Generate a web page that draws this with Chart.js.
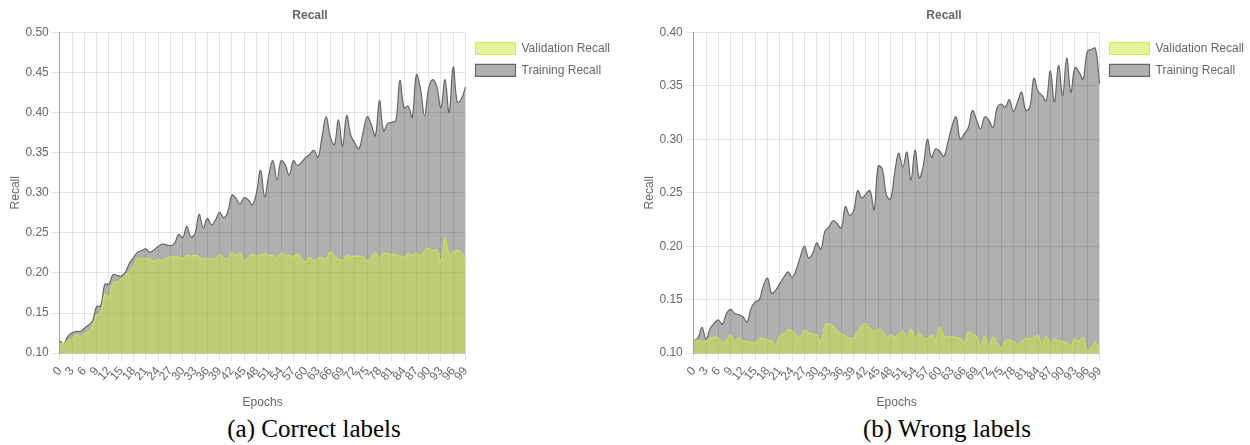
<!DOCTYPE html>
<html>
<head>
<meta charset="utf-8">
<script src="https://cdn.jsdelivr.net/npm/chart.js@4/dist/chart.umd.min.js"></script>
<style>
  html, body { margin: 0; padding: 0; background: #fff; }
  body { width: 1250px; height: 445px; position: relative; overflow: hidden; }
  .panel { position: absolute; top: 0; }
  .caption {
    position: absolute; top: 415px; width: 400px; text-align: center;
    font-family: "Liberation Serif", "DejaVu Serif", serif; font-size: 25px; color: #000;
    white-space: nowrap;
  }
</style>
</head>
<body>
<canvas id="chartA" class="panel" style="left:0px" width="620" height="412"></canvas>
<canvas id="chartB" class="panel" style="left:634px" width="620" height="412"></canvas>
<div class="caption" style="left:114px">(a) Correct labels</div>
<div class="caption" style="left:747px">(b) Wrong labels</div>
<script>
// Epoch labels 0..99
const epochs = Array.from({ length: 100 }, (_, i) => String(i));

// (a) Correct labels
const validationRecallA = [
  0.112, 0.112, 0.115, 0.118, 0.123, 0.121, 0.124, 0.127, 0.133, 0.148,
  0.149, 0.174, 0.170, 0.188, 0.189, 0.192, 0.197, 0.202, 0.208, 0.218,
  0.218, 0.218, 0.218, 0.214, 0.217, 0.216, 0.218, 0.220, 0.220, 0.220,
  0.218, 0.222, 0.221, 0.222, 0.220, 0.217, 0.218, 0.217, 0.218, 0.223,
  0.218, 0.218, 0.226, 0.222, 0.225, 0.215, 0.220, 0.223, 0.221, 0.222,
  0.224, 0.222, 0.222, 0.218, 0.225, 0.222, 0.222, 0.220, 0.224, 0.217,
  0.214, 0.220, 0.215, 0.218, 0.219, 0.217, 0.226, 0.222, 0.217, 0.216,
  0.222, 0.220, 0.221, 0.221, 0.220, 0.215, 0.220, 0.225, 0.218, 0.225,
  0.224, 0.223, 0.223, 0.221, 0.219, 0.224, 0.222, 0.225, 0.222, 0.228,
  0.231, 0.228, 0.229, 0.214, 0.244, 0.223, 0.226, 0.228, 0.225, 0.218
];
const trainingRecallA = [
  0.115, 0.112, 0.121, 0.1255, 0.127, 0.127, 0.131, 0.135, 0.140, 0.158,
  0.159, 0.186, 0.186, 0.198, 0.197, 0.196, 0.201, 0.212, 0.219, 0.226,
  0.228, 0.230, 0.226, 0.229, 0.233, 0.236, 0.235, 0.234, 0.237, 0.248,
  0.244, 0.258, 0.245, 0.249, 0.273, 0.256, 0.268, 0.260, 0.266, 0.276,
  0.269, 0.276, 0.297, 0.293, 0.286, 0.294, 0.291, 0.285, 0.300, 0.328,
  0.295, 0.322, 0.340, 0.316, 0.340, 0.335, 0.322, 0.340, 0.334, 0.338,
  0.344, 0.348, 0.353, 0.344, 0.370, 0.395, 0.370, 0.360, 0.391, 0.358,
  0.396, 0.372, 0.362, 0.355, 0.375, 0.395, 0.385, 0.371, 0.415, 0.377,
  0.386, 0.388, 0.390, 0.440, 0.406, 0.408, 0.394, 0.447, 0.430, 0.396,
  0.430, 0.441, 0.432, 0.406, 0.441, 0.400, 0.457, 0.413, 0.417, 0.432
];

// (b) Wrong labels
const validationRecallB = [
  0.1125, 0.112, 0.111, 0.111, 0.114, 0.115, 0.1145, 0.110, 0.112, 0.117,
  0.111, 0.1145, 0.111, 0.111, 0.110, 0.110, 0.113, 0.1135, 0.1125, 0.1115,
  0.107, 0.1165, 0.118, 0.122, 0.1205, 0.117, 0.1135, 0.1215, 0.119, 0.1175,
  0.117, 0.110, 0.126, 0.1273, 0.1255, 0.1205, 0.118, 0.1162, 0.114, 0.1145,
  0.120, 0.1255, 0.1275, 0.1235, 0.1205, 0.1225, 0.121, 0.1145, 0.117, 0.1155,
  0.1175, 0.121, 0.1125, 0.1225, 0.1145, 0.119, 0.1145, 0.1135, 0.117, 0.113,
  0.1244, 0.116, 0.115, 0.1153, 0.1145, 0.114, 0.110, 0.1197, 0.118, 0.1155,
  0.1056, 0.116, 0.1055, 0.115, 0.1097, 0.1047, 0.111, 0.1125, 0.111, 0.108,
  0.111, 0.1135, 0.1135, 0.1145, 0.1166, 0.108, 0.116, 0.1085, 0.1135, 0.1115,
  0.1108, 0.1097, 0.1066, 0.1135, 0.111, 0.115, 0.1015, 0.105, 0.110, 0.101
];
const trainingRecallB = [
  0.112, 0.114, 0.124, 0.113, 0.123, 0.128, 0.131, 0.127, 0.137, 0.141,
  0.137, 0.136, 0.134, 0.129, 0.142, 0.148, 0.150, 0.163, 0.170, 0.156,
  0.159, 0.165, 0.171, 0.176, 0.171, 0.178, 0.190, 0.200, 0.189, 0.193,
  0.203, 0.197, 0.214, 0.218, 0.224, 0.221, 0.217, 0.237, 0.229, 0.233,
  0.252, 0.245, 0.249, 0.252, 0.234, 0.275, 0.272, 0.248, 0.244, 0.268,
  0.287, 0.274, 0.288, 0.262, 0.290, 0.264, 0.275, 0.300, 0.283, 0.291,
  0.289, 0.284, 0.297, 0.312, 0.321, 0.300, 0.305, 0.311, 0.327, 0.318,
  0.310, 0.321, 0.318, 0.311, 0.329, 0.333, 0.330, 0.337, 0.326, 0.335,
  0.344, 0.327, 0.330, 0.357, 0.345, 0.341, 0.336, 0.364, 0.335, 0.369,
  0.341, 0.376, 0.344, 0.367, 0.363, 0.356, 0.382, 0.384, 0.385, 0.352
];

const yRangeA = { min: 0.10, max: 0.50 };
const yRangeB = { min: 0.10, max: 0.40 };

Chart.defaults.font.family = "'Liberation Sans', Arial, Helvetica, sans-serif";
Chart.defaults.font.size = 12;
Chart.defaults.color = '#666';

function recallChart(canvasId, validation, training, yRange) {
  return new Chart(document.getElementById(canvasId), {
    type: 'line',
    data: {
      labels: epochs,
      datasets: [
        {
          label: 'Validation Recall',
          data: validation,
          backgroundColor: 'rgba(206, 232, 60, 0.5)',
          borderColor: 'rgba(210, 234, 70, 1)',
          borderWidth: 1,
          fill: 'origin',
          tension: 0.4,
          pointRadius: 0
        },
        {
          label: 'Training Recall',
          data: training,
          backgroundColor: 'rgba(0, 0, 0, 0.31)',
          borderColor: '#666',
          borderWidth: 1.2,
          fill: 'origin',
          tension: 0.4,
          pointRadius: 0
        }
      ]
    },
    options: {
      responsive: false,
      animation: false,
      devicePixelRatio: 1,
      plugins: {
        title: {
          display: true,
          text: 'Recall',
          font: { size: 12, weight: 'bold' },
          color: '#666',
          padding: { top: 8, bottom: 10 }
        },
        legend: {
          position: 'right',
          align: 'start',
          fullSize: false,
          labels: { boxWidth: 40, boxHeight: 12, color: '#666', font: { size: 12 } }
        },
        tooltip: { enabled: false }
      },
      scales: {
        x: {
          title: { display: true, text: 'Epochs', padding: { top: 9, bottom: 2 } },
          grid: { color: 'rgba(0,0,0,0.1)' },
          border: { color: 'rgba(0,0,0,0.15)' },
          ticks: {
            autoSkip: false,
            minRotation: 50,
            maxRotation: 50,
            callback: (v, i) => (i % 3 === 0 ? epochs[i] : null)
          }
        },
        y: {
          min: yRange.min,
          max: yRange.max,
          title: { display: true, text: 'Recall', padding: { top: 8, bottom: 0 } },
          grid: { color: 'rgba(0,0,0,0.1)' },
          border: { color: 'rgba(0,0,0,0.3)' },
          ticks: { stepSize: 0.05, callback: v => v.toFixed(2) }
        }
      }
    }
  });
}

recallChart('chartA', validationRecallA, trainingRecallA, yRangeA);
recallChart('chartB', validationRecallB, trainingRecallB, yRangeB);
</script>
</body>
</html>
